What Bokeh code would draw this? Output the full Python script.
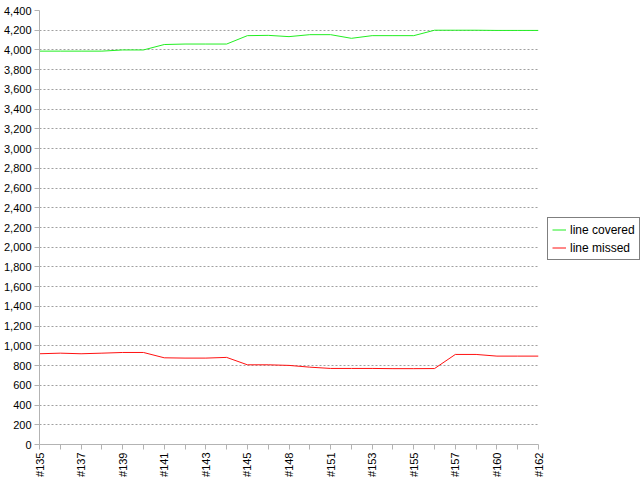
import math
from bokeh.plotting import figure
from bokeh.models import Range1d, FixedTicker, NumeralTickFormatter
from bokeh.embed import file_html
from bokeh.resources import INLINE

labels = ["#135", "#136", "#137", "#138", "#139", "#140", "#141", "#142", "#143", "#144",
          "#145", "#147", "#148", "#150", "#151", "#152", "#153", "#154", "#155", "#156",
          "#157", "#159", "#160", "#161", "#162"]
line_covered = [3988, 3988, 3988, 3988, 4000, 4000, 4055, 4060, 4060, 4060,
                4145, 4148, 4135, 4155, 4155, 4118, 4145, 4145, 4145, 4200,
                4200, 4200, 4198, 4198, 4198]
line_missed = [920, 926, 920, 926, 933, 933, 879, 876, 876, 883,
               808, 808, 802, 784, 771, 771, 771, 769, 769, 770,
               913, 913, 896, 896, 896]

xs = list(range(len(labels)))

p = figure(frame_width=499, frame_height=434, output_backend="svg", toolbar_location=None,
           x_range=Range1d(0, len(labels) - 1), y_range=Range1d(0, 4400),
           min_border_left=30, min_border_top=10, min_border_bottom=34, min_border_right=0)
p.outline_line_color = None
p.background_fill_color = "white"
p.border_fill_color = "white"

p.line(xs, line_covered, line_color="#22ee22", line_width=1, legend_label="line covered")
p.line(xs, line_missed, line_color="#ff1111", line_width=1, legend_label="line missed")

p.xaxis.ticker = FixedTicker(ticks=xs)
p.xaxis.major_label_overrides = {i: (labels[i] if i % 2 == 0 else "") for i in xs}
p.xaxis.major_label_orientation = math.pi / 2
p.yaxis.ticker = FixedTicker(ticks=list(range(0, 4401, 200)))
p.yaxis.formatter = NumeralTickFormatter(format="0,0")

for ax in (p.xaxis[0], p.yaxis[0]):
    ax.axis_line_color = "#b3b3b3"
    ax.major_tick_line_color = "#b3b3b3"
    ax.major_tick_out = 5
    ax.major_tick_in = 0
    ax.minor_tick_line_color = None
    ax.major_label_text_font = "Liberation Sans"
    ax.major_label_text_font_size = "11px"
    ax.major_label_text_color = "#000000"
    ax.major_label_standoff = 3

p.xgrid.grid_line_color = None
p.ygrid.grid_line_color = "#a0a0a0"
p.ygrid.grid_line_dash = "2 2"
p.ygrid.grid_line_width = 1

legend = p.legend[0]
legend.location = (9, 184)
legend.label_text_font = "Liberation Sans"
legend.label_text_font_size = "12px"
legend.label_text_color = "#000000"
legend.border_line_color = "#000000"
legend.border_line_width = 1
legend.background_fill_alpha = 1
legend.glyph_width = 14
legend.glyph_height = 15
legend.label_standoff = 4
legend.label_height = 15
legend.padding = 4
legend.spacing = 3
legend.margin = 0
p.add_layout(legend, "right")

open("out.html", "w").write(file_html(p, INLINE))
